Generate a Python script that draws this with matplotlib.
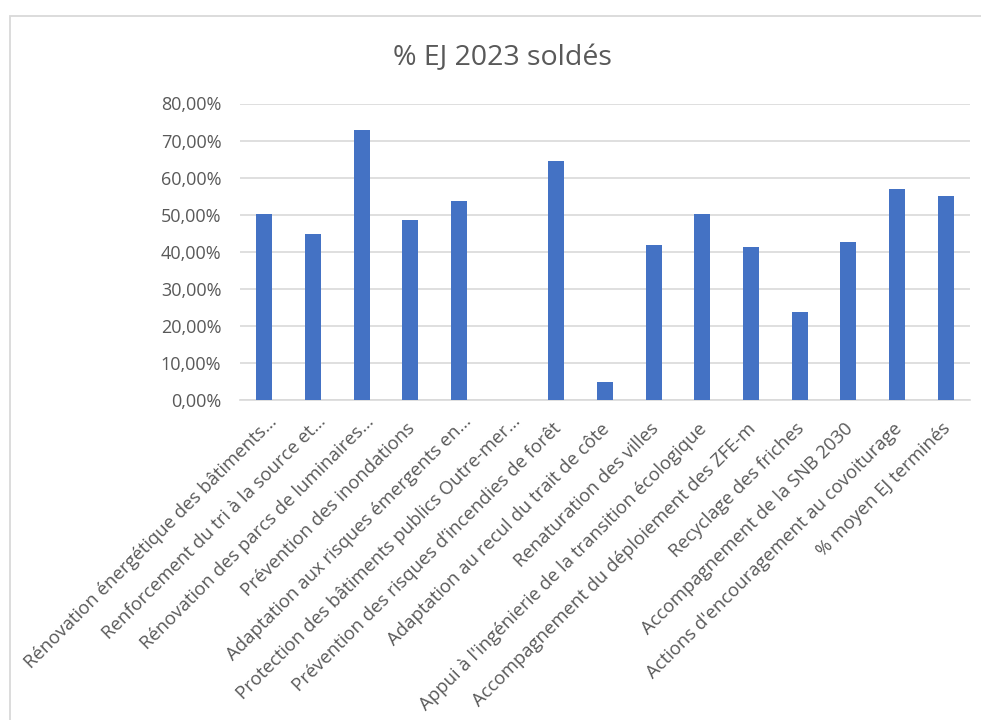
import matplotlib
matplotlib.use("Agg")
import matplotlib.pyplot as plt
import matplotlib.transforms as mtransforms
from matplotlib.patches import Rectangle
from matplotlib.ticker import FuncFormatter, MultipleLocator

plt.rcParams["font.family"] = ["Open Sans", "DejaVu Sans"]

categories = [
    "Rénovation énergétique des bâtiments…",
    "Renforcement du tri à la source et…",
    "Rénovation des parcs de luminaires…",
    "Prévention des inondations",
    "Adaptation aux risques émergents en…",
    "Protection des bâtiments publics Outre-mer…",
    "Prévention des risques d’incendies de forêt",
    "Adaptation au recul du trait de côte",
    "Renaturation des villes",
    "Appui à l'ingénierie de la transition écologique",
    "Accompagnement du déploiement des ZFE-m",
    "Recyclage des friches",
    "Accompagnement de la SNB 2030",
    "Actions d'encouragement au covoiturage",
    "% moyen EJ terminés",
]
pct_solde = [0.503, 0.449, 0.728, 0.486, 0.537, 0.0, 0.646, 0.049,
             0.417, 0.501, 0.414, 0.238, 0.425, 0.568, 0.550]

TEXT = "#595959"
GRID = "#D9D9D9"
BAR = "#4472C4"

fig = plt.figure(figsize=(9.81, 7.2), dpi=100)

# chart frame
fig.patches.append(Rectangle((10 / 981, -0.01), 1.0, 1 - 16 / 720 + 0.01,
                             transform=fig.transFigure, fill=False,
                             edgecolor=GRID, linewidth=1.3))

ax = fig.add_axes([240 / 981, 1 - 400 / 720, 730 / 981, (400 - 103.5) / 720])

x = range(len(categories))
ax.bar(x, pct_solde, width=0.33, color=BAR, zorder=3)

ax.set_xlim(-0.5, len(categories) - 0.5)
ax.set_ylim(0, 0.8)
ax.yaxis.set_major_locator(MultipleLocator(0.1))
ax.yaxis.set_major_formatter(
    FuncFormatter(lambda v, _: f"{v * 100:.2f}%".replace(".", ",")))
ax.grid(axis="y", color=GRID, linewidth=1.2, zorder=0)
ax.set_axisbelow(True)

for side in ("top", "right", "left"):
    ax.spines[side].set_visible(False)
ax.spines["bottom"].set_color(GRID)
ax.spines["bottom"].set_linewidth(1.2)

ax.tick_params(axis="y", length=0, pad=13.5, labelsize=13, labelcolor=TEXT)
ax.tick_params(axis="x", length=0, pad=0, labelsize=13.3, labelcolor=TEXT)

ax.set_xticks(list(x))
ax.set_xticklabels(categories, rotation=45, ha="right", va="center",
                   rotation_mode="anchor")
# truncated labels sit a little further along the slant than complete ones
for lbl in ax.get_xticklabels():
    if lbl.get_text().endswith("…"):
        dx, dy = 10, 19
    else:
        dx, dy = 2, 26
    off = mtransforms.ScaledTranslation(dx / 100, -dy / 100, fig.dpi_scale_trans)
    lbl.set_transform(lbl.get_transform() + off)

fig.text(502 / 981, 1 - 65 / 720, "% EJ 2023 soldés", ha="center",
         va="baseline", fontsize=20.5, color=TEXT)

fig.savefig("out.png", dpi=100, facecolor="white")
